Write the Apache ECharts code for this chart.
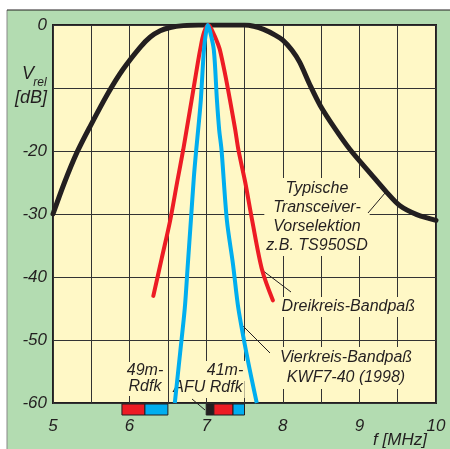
<!DOCTYPE html>
<html>
<head>
<meta charset="utf-8">
<script src="https://cdn.jsdelivr.net/npm/echarts@6/dist/echarts.min.js"></script>
<style>
  html, body { margin: 0; padding: 0; background: #fff; }
  #chart { width: 450px; height: 449px; }
</style>
</head>
<body>
<div id="chart"></div>
<script>
// Frequenz in MHz, Pegel in dB
const transceiverData = [
  [5.0, -30], [5.15, -25], [5.31, -20.3], [5.48, -16.2], [5.72, -10.8], [5.91, -7.1],
  [6.14, -3.5], [6.27, -1.9], [6.4, -0.9], [6.53, -0.4], [6.7, -0.1], [6.9, 0],
  [7.2, 0], [7.5, 0], [7.62, -0.2], [7.75, -0.7], [7.9, -1.6], [8.0, -2.4],
  [8.12, -4], [8.22, -5.9], [8.35, -9.4], [8.49, -12.8], [8.68, -16.4], [8.88, -19.8],
  [9.14, -23.5], [9.36, -26.6], [9.53, -28.7], [9.75, -30.1], [10.0, -31]
]
const dreikreisData = [
  [6.31, -43], [6.42, -37], [6.53, -31], [6.62, -25], [6.70, -19.8], [6.76, -15.5],
  [6.81, -11.9], [6.87, -7.5], [6.92, -4], [6.97, -1.2], [7.03, 0], [7.09, -1.2],
  [7.14, -2.6], [7.18, -4], [7.25, -8], [7.31, -11.9], [7.38, -16.7], [7.42, -19.8],
  [7.51, -25], [7.6, -31], [7.73, -38.9], [7.87, -43.7]
]
const vierkreisData = [
  [6.59, -60], [6.66, -52], [6.72, -45], [6.76, -38], [6.8, -31], [6.84, -24],
  [6.87, -19.8], [6.9, -16], [6.93, -11.9], [6.97, -4], [7.0, -1], [7.02, 0],
  [7.05, -1], [7.1, -4], [7.14, -11.9], [7.17, -16.7], [7.2, -19.8], [7.27, -31],
  [7.35, -38], [7.42, -45], [7.54, -53], [7.66, -60]
]
// Rundfunk- und Amateurfunkbänder unter der Achse
const bandFrom = [5.9, 6.2, 7.0, 7.1, 7.35]
const bandTo = [6.2, 6.5, 7.1, 7.35, 7.5]
const yTicks = [0, -10, -20, -30, -40, -50, -60]

// Farben
const GREEN = '#b3dcb1'
const YELLOW = '#fff8c6'
const INK = '#231f20'
const RED = '#ed1c24'
const BLUE = '#00aeef'
const bandColors = [RED, BLUE, INK, RED, BLUE]
const FONT = "'Liberation Sans', Arial, sans-serif"

const chart = echarts.init(document.getElementById('chart'))

function label(text, x, y, align, lineHeight) {
  return {
    type: 'text',
    z: 1,
    style: {
      text: text,
      x: x,
      y: y,
      align: align || 'center',
      verticalAlign: 'middle',
      fill: INK,
      font: 'italic 16px ' + FONT,
      lineHeight: lineHeight || 18,
      backgroundColor: YELLOW,
      padding: [1, 2]
    }
  }
}

function leader(x1, y1, x2, y2) {
  return {
    type: 'line',
    z: 1,
    shape: { x1: x1, y1: y1, x2: x2, y2: y2 },
    style: { stroke: INK, lineWidth: 1 }
  }
}

function axisTitle(text, x, y, size) {
  return {
    type: 'text',
    style: { text: text, x: x, y: y, align: 'center', verticalAlign: 'middle', fill: INK, font: 'italic ' + size + 'px ' + FONT }
  }
}

chart.setOption({
  animation: false,
  backgroundColor: GREEN,
  grid: {
    left: 53,
    top: 25,
    right: 14,
    bottom: 46,
    show: true,
    backgroundColor: YELLOW,
    borderColor: INK,
    borderWidth: 2
  },
  xAxis: {
    type: 'value',
    min: 5,
    max: 10,
    interval: 0.5,
    axisLine: { show: false },
    axisTick: { show: false },
    splitLine: { show: true, lineStyle: { color: '#333', width: 1 } },
    axisLabel: {
      margin: 15,
      showMinLabel: true,
      showMaxLabel: true,
      color: INK,
      fontSize: 17,
      fontStyle: 'italic',
      fontFamily: FONT,
      formatter: (v) => (Number.isInteger(v) ? String(v) : '')
    }
  },
  yAxis: {
    type: 'value',
    min: -60,
    max: 0,
    interval: 10,
    axisLine: { show: false },
    axisTick: { show: false },
    splitLine: { show: true, lineStyle: { color: '#333', width: 1 } },
    axisLabel: {
      margin: 6,
      color: INK,
      fontSize: 17,
      fontStyle: 'italic',
      fontFamily: FONT,
      formatter: (v) => (v === yTicks[1] ? '' : String(v))
    }
  },
  graphic: [
    { type: 'rect', shape: { x: 0, y: 0, width: 450, height: 10 }, style: { fill: '#fff' } },
    { type: 'rect', shape: { x: 0, y: 0, width: 7, height: 449 }, style: { fill: '#fff' } },
    leader(7, 10, 450, 10),
    { type: 'line', shape: { x1: 7, y1: 10, x2: 7, y2: 449 }, style: { stroke: '#888', lineWidth: 1 } },
    // Achsentitel
    axisTitle('V', 28, 74, 18),
    axisTitle('rel', 40, 83, 12),
    axisTitle('[dB]', 31, 98, 18),
    axisTitle('f [MHz]', 400, 440, 17),
    // Beschriftungen im Diagramm
    label('Typische\nTransceiver-\nVorselektion\nz.B. TS950SD', 317, 217, 'center', 19),
    leader(368, 213, 385, 193),
    label('Dreikreis-Bandpaß', 417, 307, 'right'),
    leader(262, 270, 291, 292),
    label('Vierkreis-Bandpaß\nKWF7-40 (1998)', 346, 368, 'center', 20),
    leader(240, 323, 270, 353),
    label('49m-\nRdfk', 145, 379, 'center', 16),
    label('41m-', 225, 371, 'center'),
    label('AFU Rdfk', 208, 388, 'center'),
    leader(192, 399, 205, 410)
  ],
  series: [
    {
      name: 'Typische Transceiver-Vorselektion',
      type: 'line',
      data: transceiverData,
      smooth: 0.3,
      showSymbol: false,
      z: 3,
      lineStyle: { color: INK, width: 5, cap: 'round' }
    },
    {
      name: 'Dreikreis-Bandpaß',
      type: 'line',
      data: dreikreisData,
      smooth: 0.3,
      showSymbol: false,
      z: 4,
      lineStyle: { color: RED, width: 4, cap: 'round' }
    },
    {
      name: 'Vierkreis-Bandpaß',
      type: 'line',
      data: vierkreisData,
      smooth: 0.3,
      showSymbol: false,
      z: 5,
      lineStyle: { color: BLUE, width: 4 }
    },
    {
      name: 'Bänder',
      type: 'custom',
      clip: false,
      z: 6,
      data: bandFrom.map((f, i) => [f, bandTo[i]]),
      renderItem: (params, api) => {
        const a = api.coord([api.value(0), -60])
        const b = api.coord([api.value(1), -60])
        return {
          type: 'rect',
          shape: { x: a[0], y: a[1] + 1, width: b[0] - a[0], height: 11 },
          style: { fill: bandColors[params.dataIndex], stroke: INK, lineWidth: 1 }
        }
      }
    }
  ]
})
</script>
</body>
</html>
